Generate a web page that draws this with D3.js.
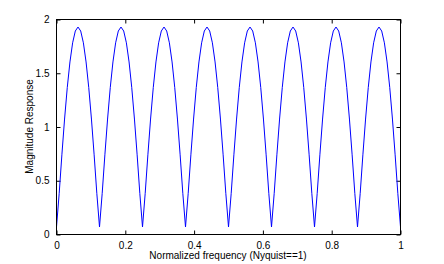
<!DOCTYPE html>
<html>
  <head>
    <title>Magnitude Response</title>
    <script src="https://d3js.org/d3.v7.js"></script>
    <style>
      body { margin: 0; background: #fff; }
      text { font-family: 'Liberation Sans', Arial, sans-serif; font-size: 10px; fill: #000; }
    </style>
  </head>
  <body>
    <svg width="444" height="264"></svg>

    <script>
      (function (d3) {
        'use strict';

        const xAxisLabelText = 'Normalized frequency (Nyquist==1)';
        const yAxisLabelText = 'Magnitude Response';

        const xTicks = [0, 0.2, 0.4, 0.6, 0.8, 1];
        const yTicks = [0, 0.5, 1, 1.5, 2];

        const freqStep = 1 / 128;
        const magnitude = [
          0.070, 0.383, 0.741, 1.074, 1.366, 1.605, 1.783, 1.893, 1.930, 1.893, 1.783, 1.605, 1.366, 1.074, 0.741, 0.383,
          0.070, 0.383, 0.741, 1.074, 1.366, 1.605, 1.783, 1.893, 1.930, 1.893, 1.783, 1.605, 1.366, 1.074, 0.741, 0.383,
          0.070, 0.383, 0.741, 1.074, 1.366, 1.605, 1.783, 1.893, 1.930, 1.893, 1.783, 1.605, 1.366, 1.074, 0.741, 0.383,
          0.070, 0.383, 0.741, 1.074, 1.366, 1.605, 1.783, 1.893, 1.930, 1.893, 1.783, 1.605, 1.366, 1.074, 0.741, 0.383,
          0.070, 0.383, 0.741, 1.074, 1.366, 1.605, 1.783, 1.893, 1.930, 1.893, 1.783, 1.605, 1.366, 1.074, 0.741, 0.383,
          0.070, 0.383, 0.741, 1.074, 1.366, 1.605, 1.783, 1.893, 1.930, 1.893, 1.783, 1.605, 1.366, 1.074, 0.741, 0.383,
          0.070, 0.383, 0.741, 1.074, 1.366, 1.605, 1.783, 1.893, 1.930, 1.893, 1.783, 1.605, 1.366, 1.074, 0.741, 0.383,
          0.070, 0.383, 0.741, 1.074, 1.366, 1.605, 1.783, 1.893, 1.930, 1.893, 1.783, 1.605, 1.366, 1.074, 0.741, 0.383,
          0.070,
        ];

        const svg = d3.select('svg');
        const width = +svg.attr('width');
        const height = +svg.attr('height');

        const margin = { top: 19, right: 44, bottom: 30, left: 56 };
        const innerWidth = width - margin.left - margin.right;
        const innerHeight = height - margin.top - margin.bottom;

        const xScale = d3.scaleLinear().domain([0, 1]).range([0, innerWidth]);
        const yScale = d3.scaleLinear().domain([0, 2]).range([innerHeight, 0]);

        const g = svg
          .append('g')
          .attr('transform', `translate(${margin.left + 0.5},${margin.top + 0.5})`);

        const fmt = (d) => String(d);
        const tickLen = 4;

        const styleAxis = (sel) => {
          sel.select('.domain').remove();
          sel.selectAll('.tick line').attr('stroke', '#000');
          sel.selectAll('.tick text').attr('font-size', null).attr('font-family', null);
        };

        // bottom axis with labels, top axis without
        g.append('g')
          .attr('transform', `translate(0,${innerHeight})`)
          .call(d3.axisBottom(xScale).tickValues(xTicks).tickFormat(fmt).tickSizeInner(-tickLen).tickSizeOuter(0).tickPadding(7))
          .call(styleAxis);
        g.append('g')
          .call(d3.axisTop(xScale).tickValues(xTicks).tickFormat('').tickSizeInner(-tickLen).tickSizeOuter(0))
          .call(styleAxis);

        g.append('g')
          .call(d3.axisLeft(yScale).tickValues(yTicks).tickFormat(fmt).tickSizeInner(-tickLen).tickSizeOuter(0).tickPadding(7))
          .call(styleAxis);
        g.append('g')
          .attr('transform', `translate(${innerWidth},0)`)
          .call(d3.axisRight(yScale).tickValues(yTicks).tickFormat('').tickSizeInner(-tickLen).tickSizeOuter(0))
          .call(styleAxis);

        const line = d3
          .line()
          .x((d, i) => xScale(i * freqStep))
          .y((d) => yScale(d));

        g.append('path')
          .datum(magnitude)
          .attr('fill', 'none')
          .attr('stroke', '#0000ff')
          .attr('stroke-width', 1)
          .attr('d', line);

        // box
        g.append('rect')
          .attr('width', innerWidth)
          .attr('height', innerHeight)
          .attr('fill', 'none')
          .attr('stroke', '#000');

        svg.append('text')
          .attr('x', margin.left + innerWidth / 2)
          .attr('y', 259)
          .attr('text-anchor', 'middle')
          .text(xAxisLabelText);

        svg.append('text')
          .attr('transform', `translate(33,${margin.top + innerHeight / 2}) rotate(-90)`)
          .attr('text-anchor', 'middle')
          .text(yAxisLabelText);
      })(d3);
    </script>
  </body>
</html>
